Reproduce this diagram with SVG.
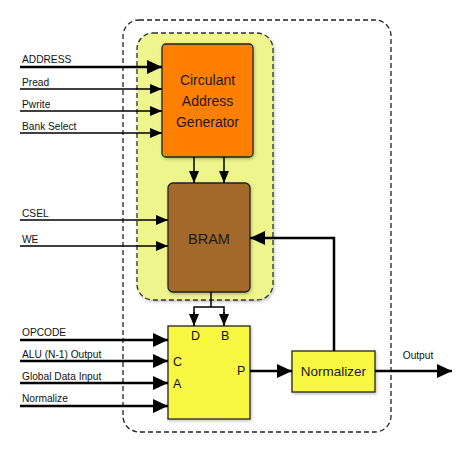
<svg xmlns="http://www.w3.org/2000/svg" width="474" height="450" viewBox="0 0 474 450">
<style>
.lbl{font-family:"Liberation Sans",Arial,sans-serif;font-size:10.2px;fill:#111}
.big{font-family:"Liberation Sans",Arial,sans-serif;font-size:14px;fill:#1a1a1a;text-anchor:middle}
.port{font-family:"Liberation Sans",Arial,sans-serif;font-size:12.5px;fill:#111}
.thick{stroke:#000;stroke-width:2.5;fill:none}
.thin{stroke:#000;stroke-width:1.5;fill:none}
.box{stroke:#222;stroke-width:1.3}
</style>
<defs>
<marker id="ab" markerUnits="userSpaceOnUse" markerWidth="15" markerHeight="14" refX="15" refY="7" orient="auto"><path d="M0,0 L15,7 L0,14 z" fill="#000"/></marker>
<marker id="as" markerUnits="userSpaceOnUse" markerWidth="12" markerHeight="10" refX="12" refY="5" orient="auto"><path d="M0,0 L12,5 L0,10 z" fill="#000"/></marker>
<filter id="sh" x="-10%" y="-10%" width="120%" height="120%"><feDropShadow dx="1" dy="1.5" stdDeviation="1.5" flood-color="#000" flood-opacity="0.25"/></filter>
</defs>
<g id="outer"><rect x="123" y="20" width="268" height="412" rx="16" fill="none" stroke="#222" stroke-width="1.3" stroke-dasharray="5,3"/></g>
<g id="memgroup"><rect x="137" y="33" width="136" height="267" rx="16" fill="#eef58c" stroke="#333" stroke-width="1.3" stroke-dasharray="5,3" filter="url(#sh)"/></g>
<g id="cag"><rect class="box" x="162" y="44" width="91" height="113" rx="4" fill="#ff8000" filter="url(#sh)"/>
<text class="big" x="207.5" y="85">Circulant</text><text class="big" x="207.5" y="106">Address</text><text class="big" x="207.5" y="127">Generator</text></g>
<g id="bram"><rect class="box" x="168" y="183" width="82" height="109" rx="5" fill="#a3692c" filter="url(#sh)"/>
<text class="big" x="209" y="244" style="font-size:14.5px">BRAM</text></g>
<g id="dsp"><rect class="box" x="168" y="326" width="82" height="93" fill="#f8f843" filter="url(#sh)"/>
<text class="port" x="191" y="340">D</text><text class="port" x="221" y="340">B</text>
<text class="port" x="173" y="366">C</text><text class="port" x="173" y="388">A</text><text class="port" x="237" y="375">P</text></g>
<g id="normalizer"><rect class="box" x="292" y="351" width="83" height="41" fill="#f8f843" filter="url(#sh)"/>
<text class="big" x="333.5" y="376" style="font-size:13.5px">Normalizer</text></g>
<g id="connectors">
<line class="thick" x1="20" y1="67" x2="162" y2="67" marker-end="url(#ab)"/>
<line class="thin" x1="20" y1="89" x2="162" y2="89" marker-end="url(#as)"/>
<line class="thin" x1="20" y1="111" x2="162" y2="111" marker-end="url(#as)"/>
<line class="thin" x1="20" y1="133" x2="162" y2="133" marker-end="url(#as)"/>
<line class="thin" x1="20" y1="220" x2="168" y2="220" marker-end="url(#as)"/>
<line class="thin" x1="20" y1="246" x2="168" y2="246" marker-end="url(#as)"/>
<line class="thin" x1="194" y1="157" x2="194" y2="183" marker-end="url(#as)"/>
<line class="thin" x1="224" y1="157" x2="224" y2="183" marker-end="url(#as)"/>
<polyline class="thick" points="334,351 334,238 250,238" marker-end="url(#ab)"/>
<line class="thin" x1="211" y1="292" x2="211" y2="307"/>
<polyline class="thin" points="194,325 194,307 224,307 224,325"/>
<line class="thin" x1="194" y1="312" x2="194" y2="326" marker-end="url(#as)"/>
<line class="thin" x1="224" y1="312" x2="224" y2="326" marker-end="url(#as)"/>
<line class="thick" x1="20" y1="340" x2="168" y2="340" marker-end="url(#ab)"/>
<line class="thick" x1="20" y1="361" x2="168" y2="361" marker-end="url(#ab)"/>
<line class="thick" x1="20" y1="383" x2="168" y2="383" marker-end="url(#ab)"/>
<line class="thick" x1="20" y1="406" x2="168" y2="406" marker-end="url(#ab)"/>
<line class="thick" x1="250" y1="371" x2="292" y2="371" marker-end="url(#ab)"/>
<line class="thick" x1="375" y1="371" x2="452" y2="371" marker-end="url(#ab)"/>
</g>
<g id="labels">
<text class="lbl" x="22" y="63">ADDRESS</text>
<text class="lbl" x="22" y="86">Pread</text>
<text class="lbl" x="22" y="108">Pwrite</text>
<text class="lbl" x="22" y="130">Bank Select</text>
<text class="lbl" x="22" y="217">CSEL</text>
<text class="lbl" x="22" y="243">WE</text>
<text class="lbl" x="22" y="336">OPCODE</text>
<text class="lbl" x="22" y="358">ALU (N-1) Output</text>
<text class="lbl" x="22" y="380">Global Data Input</text>
<text class="lbl" x="22" y="402">Normalize</text>
<text class="lbl" x="418" y="359" text-anchor="middle">Output</text>
</g>
</svg>
